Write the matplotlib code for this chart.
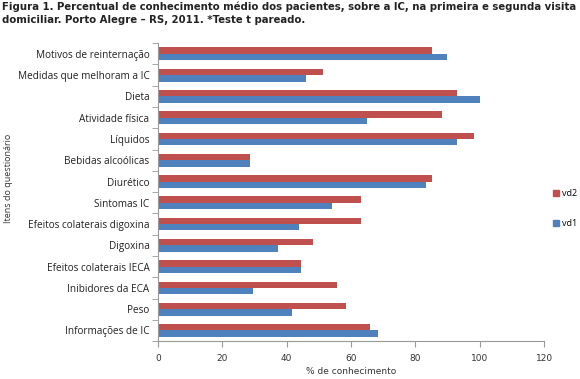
import matplotlib
matplotlib.use("Agg")
import matplotlib.pyplot as plt
import numpy as np
from matplotlib.patches import Patch

categories = ["Motivos de reinternação", "Medidas que melhoram a IC", "Dieta",
              "Atividade física", "Líquidos", "Bebidas alcoólicas", "Diurético",
              "Sintomas IC", "Efeitos colaterais digoxina", "Digoxina",
              "Efeitos colaterais IECA", "Inibidores da ECA", "Peso",
              "Informações de IC"]
vd2 = [85.1, 51.2, 93.1, 88.2, 98.2, 28.8, 85.1, 63.1, 63.1, 48.2, 44.6, 55.7, 58.6, 66.0]
vd1 = [90.0, 46.2, 100.0, 65.1, 93.1, 28.8, 83.2, 54.1, 44.0, 37.2, 44.6, 29.7, 41.7, 68.4]
xticks = [0, 20, 40, 60, 80, 100, 120]

RED = "#C0504D"
BLUE = "#4F81BD"

fig = plt.figure(figsize=(5.8, 3.79), dpi=100)
ax = fig.add_axes([0.272, 0.10, 0.666, 0.786])

n = len(categories)
y = np.arange(n)[::-1]  # top to bottom
h = 0.3
ax.barh(y + h / 2, vd2, height=h, color=RED, label="vd2")
ax.barh(y - h / 2, vd1, height=h, color=BLUE, label="vd1")

ax.set_ylim(-0.5, n - 0.5)
ax.set_xlim(0, 120)
ax.set_xticks(xticks)
ax.set_xticklabels([str(t) for t in xticks], fontsize=6.5, family="DejaVu Sans", color="#333333")
ax.set_yticks(y)
ax.set_yticklabels(categories, fontsize=7.2, family="Open Sans", color="#222222")
ax.set_yticks(np.arange(n + 1) - 0.5, minor=True)
ax.tick_params(axis="y", which="major", length=0, pad=6)
ax.tick_params(axis="y", which="minor", length=4, color="#999999", direction="out")
ax.tick_params(axis="x", length=4, color="#999999", direction="out", pad=5)

for s in ["top", "right"]:
    ax.spines[s].set_visible(False)
for s in ["left", "bottom"]:
    ax.spines[s].set_color("#999999")
    ax.spines[s].set_linewidth(0.8)

ax.set_xlabel("% de conhecimento", fontsize=6.5, family="DejaVu Sans", color="#333333", labelpad=3)
fig.text(0.015, 0.53, "Itens do questionário", rotation=90, fontsize=6.5,
         family="Open Sans", color="#333333", ha="center", va="center")

fig.text(0.003, 0.995,
         "Figura 1. Percentual de conhecimento médio dos pacientes, sobre a IC, na primeira e segunda visita\n"
         "domiciliar. Porto Alegre – RS, 2011. *Teste t pareado.",
         fontsize=7.3, fontweight="bold", family="DejaVu Sans", ha="left", va="top",
         linespacing=1.3, color="#222222")

handles = [Patch(color=RED), Patch(color=BLUE)]
fig.legend(handles, ["vd2", "vd1"], loc="center left", bbox_to_anchor=(0.953, 0.45),
           frameon=False, handlelength=0.7, handleheight=0.7, borderpad=0, borderaxespad=0,
           handletextpad=0.3, labelspacing=2.3, prop={"family": "Open Sans", "size": 6.5})

fig.savefig("out.png", dpi=100)
